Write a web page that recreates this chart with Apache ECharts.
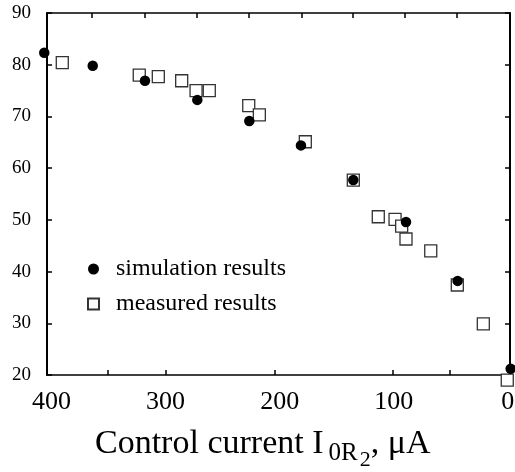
<!DOCTYPE html>
<html>
<head>
<meta charset="utf-8">
<script src="https://cdn.jsdelivr.net/npm/echarts@6/dist/echarts.min.js"></script>
<style>html,body{margin:0;padding:0;background:#fff}#c{width:515px;height:472px}</style>
</head>
<body>
<div id="c"></div>
<script>
// Simulation results (filled circles)
var simX = [406.4, 363.9, 318.1, 272.2, 226.6, 181.3, 135.4, 89.2, 43.9, -2.6];
var simY = [82.3, 79.8, 76.9, 73.2, 69.1, 64.4, 57.7, 49.6, 38.2, 21.2];
// Measured results (open squares)
var measX = [390.6, 323.1, 306.4, 285.9, 273.3, 261.7, 227.1, 217.8, 177.5, 135.4, 113.5, 98.8, 93.0, 89.2, 67.5, 44.2, 21.4, 0.4];
var measY = [80.4, 78.0, 77.7, 76.9, 75.0, 75.0, 72.1, 70.3, 65.1, 57.7, 50.6, 50.1, 48.8, 46.3, 44.0, 37.4, 29.9, 19.0];
// Axis ticks / labels
var xLabelValues = [400, 300, 200, 100, 0];
var xBottomTicks = [351, 300, 204, 101, 51];
var xTopTicks = [44.5, 90, 135.5, 181, 227, 272.5, 318.5, 364.5];
var yMin = 20, yMax = 90, yStep = 10;
var xMin = -2, xMax = 404;
var legendNames = ['simulation results', 'measured results'];

function zip(a, b) { return a.map(function (v, i) { return [v, b[i]]; }); }

var FONT = 'Liberation Serif';
var chart = echarts.init(document.getElementById('c'), null, {renderer: 'canvas'});
var axisLineStyle = function (w) { return {show: true, onZero: false, lineStyle: {color: '#000', width: w}}; };
chart.setOption({
  animation: false,
  backgroundColor: '#fff',
  grid: {left: 47, right: 5, top: 13, bottom: 97, containLabel: false, outerBoundsMode: 'none'},
  title: {
    text: 'Control current I{s1|0R}{s2|2}{m|, μA}',
    left: 90, top: 417,
    textStyle: {
      fontFamily: FONT, fontSize: 34, fontWeight: 'normal', color: '#000', lineHeight: 44,
      rich: {
        s1: {fontFamily: FONT, fontSize: 25, lineHeight: 25, color: '#000', padding: [19, 0, 0, 5]},
        s2: {fontFamily: FONT, fontSize: 22, lineHeight: 22, color: '#000', padding: [32, 0, 0, 2]},
        m: {fontFamily: FONT, fontSize: 34, lineHeight: 44, color: '#000'}
      }
    }
  },
  legend: {
    orient: 'vertical', left: 82, top: 252,
    itemWidth: 11, itemHeight: 11, itemGap: 11,
    data: legendNames,
    textStyle: {fontFamily: FONT, fontSize: 24, color: '#000', lineHeight: 24, padding: [0, 0, 0, 12]}
  },
  xAxis: [{
    type: 'value', position: 'bottom', inverse: true, min: xMin, max: xMax,
    axisLine: axisLineStyle(1.5),
    axisTick: {show: true, inside: true, length: 5, customValues: xBottomTicks, lineStyle: {color: '#000', width: 1.5}},
    axisLabel: {show: true, customValues: xLabelValues, margin: 14, fontFamily: FONT, fontSize: 26, color: '#000', hideOverlap: false},
    splitLine: {show: false}
  }, {
    type: 'value', position: 'top', inverse: true, min: xMin, max: xMax,
    axisLine: axisLineStyle(1.5),
    axisTick: {show: true, inside: true, length: 5, customValues: xTopTicks, lineStyle: {color: '#000', width: 1.5}},
    axisLabel: {show: false},
    splitLine: {show: false}
  }],
  yAxis: [{
    type: 'value', position: 'left', min: yMin, max: yMax, interval: yStep,
    axisLine: axisLineStyle(2),
    axisTick: {show: true, inside: true, length: 5, lineStyle: {color: '#000', width: 1.5}},
    axisLabel: {margin: 16, fontFamily: FONT, fontSize: 19, color: '#000'},
    splitLine: {show: false}
  }, {
    type: 'value', position: 'right', min: yMin, max: yMax, interval: yStep,
    axisLine: axisLineStyle(2),
    axisTick: {show: true, inside: true, length: 5, lineStyle: {color: '#000', width: 1.5}},
    axisLabel: {show: false},
    splitLine: {show: false}
  }],
  series: [{
    name: legendNames[1], type: 'scatter', xAxisIndex: 0, yAxisIndex: 0, clip: false,
    symbol: 'rect', symbolSize: 12,
    itemStyle: {color: '#fff', borderColor: '#333', borderWidth: 1.3, opacity: 1},
    data: zip(measX, measY), z: 2
  }, {
    name: legendNames[0], type: 'scatter', xAxisIndex: 0, yAxisIndex: 0, clip: false,
    symbol: 'circle', symbolSize: 10.5,
    itemStyle: {color: '#000', opacity: 1},
    data: zip(simX, simY), z: 3
  }]
});
</script>
</body>
</html>
